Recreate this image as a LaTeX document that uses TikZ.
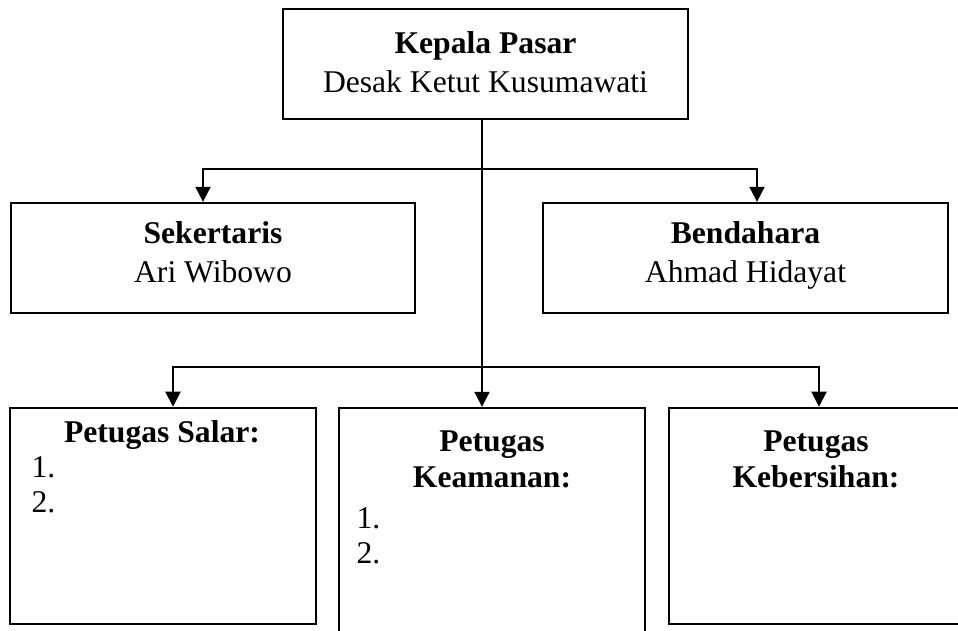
\documentclass[tikz,border=0pt]{standalone}
\usepackage{fontspec}
\setmainfont{Liberation Serif}
\usetikzlibrary{arrows.meta, positioning}

\begin{document}
\begin{tikzpicture}[x=0.3794pt, y=-0.3794pt,
    unitbox/.style={draw, line width=0.9pt, inner sep=0pt},
    namelbl/.style={inner sep=0pt, align=center, font=\fontsize{12}{14.8}\selectfont},
    titlelbl/.style={inner sep=0pt, align=center, font=\fontsize{12}{13.6}\selectfont\bfseries},
    listlbl/.style={inner sep=0pt, align=left, anchor=north west, font=\fontsize{12}{13.4}\selectfont},
    linkarr/.style={line width=0.75pt, -{Triangle[width=5.7pt, length=5.7pt]}}]
    \useasboundingbox (0,0) rectangle (958,631);
    \clip (0,0) rectangle (958,631);
    % Boxes
    \node[unitbox, minimum width=153.7pt, minimum height=41.7pt] (kepala) at (485.5,64) {};
    \node[unitbox, minimum width=153.3pt, minimum height=41.7pt] (sek) at (213,258) {};
    \node[unitbox, minimum width=153.7pt, minimum height=41.7pt] (bend) at (745.5,258) {};
    \node[unitbox, minimum width=116.1pt, minimum height=82pt] (salar) at (163,516) {};
    \node[unitbox, minimum width=116.1pt, minimum height=95.6pt] (aman) at (492,534) {};
    \node[unitbox, minimum width=111.5pt, minimum height=82pt] (bersih) at (816,516) {};
    % Labels
    \node[namelbl, anchor=north] (kepalaT) at (485.5,31) {\textbf{Kepala Pasar}\\Desak Ketut Kusumawati};
    \node[namelbl, anchor=north] (sekT) at (213,221) {\textbf{Sekertaris}\\Ari Wibowo};
    \node[namelbl, anchor=north] (bendT) at (745.5,221) {\textbf{Bendahara}\\Ahmad Hidayat};
    \node[titlelbl, anchor=north] (salarT) at (162,420) {Petugas Salar:};
    \node[titlelbl, anchor=north] (amanT) at (492,430) {Petugas\\Keamanan:};
    \node[titlelbl, anchor=north] (bersihT) at (816,430) {Petugas\\Kebersihan:};
    \node[listlbl] (salarL) at (31,456) {1.\\2.};
    \node[listlbl] (amanL) at (356,507) {1.\\2.};
    % Connectors
    \coordinate (j1) at (482,169);
    \coordinate (j2) at (482,367);
    \draw[linkarr] ([shift={(-3.5,0)}]kepala.south) -- ([shift={(-10,0)}]aman.north);
    \draw[linkarr] (j1) -| ([shift={(-10,0)}]sek.north);
    \draw[linkarr] (j1) -| ([shift={(11.5,0)}]bend.north);
    \draw[linkarr] (j2) -| ([shift={(10,0)}]salar.north);
    \draw[linkarr] (j2) -| ([shift={(3,0)}]bersih.north);
\end{tikzpicture}
\end{document}
